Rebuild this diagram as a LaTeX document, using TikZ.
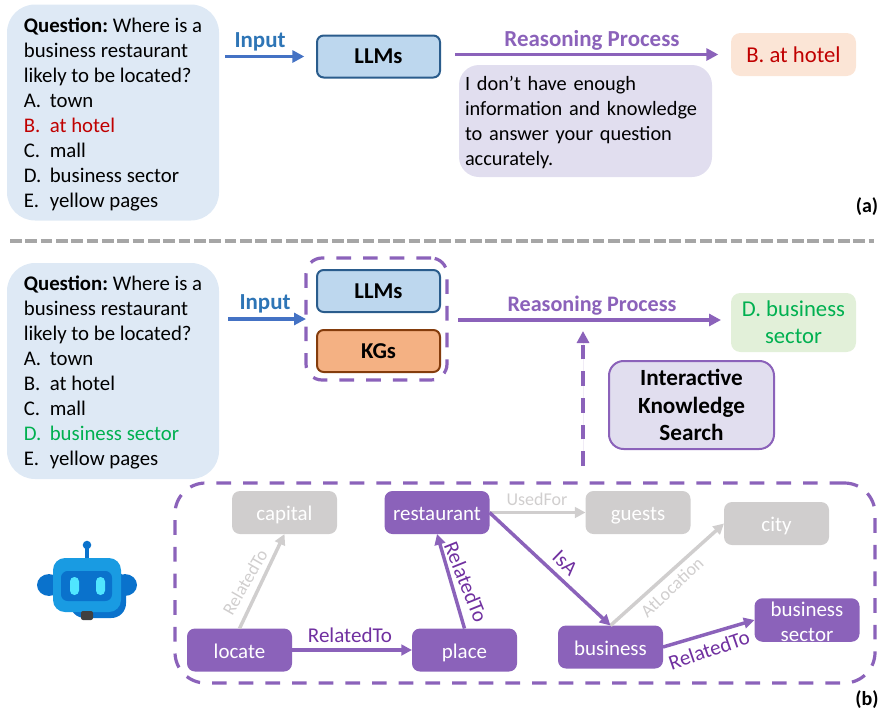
\documentclass[tikz,border=0pt]{standalone}
\usepackage{fontspec}
\setmainfont{Carlito}
\usetikzlibrary{arrows.meta}
\definecolor{qblue}{HTML}{DEE9F5}
\definecolor{llmfill}{HTML}{BDD7EE}
\definecolor{llmline}{HTML}{2A5C8C}
\definecolor{kgfill}{HTML}{F4B183}
\definecolor{kgline}{HTML}{843C0C}
\definecolor{lilac}{HTML}{E1DEEF}
\definecolor{violet}{HTML}{8B62BA}
\definecolor{violettext}{HTML}{7030A0}
\definecolor{ashen}{HTML}{D0CECE}
\definecolor{peach}{HTML}{FBE5D6}
\definecolor{mint}{HTML}{E2F0D9}
\definecolor{wrong}{HTML}{C00000}
\definecolor{right}{HTML}{00B050}
\definecolor{inblue}{HTML}{4472C4}
\definecolor{intext}{HTML}{2E75B6}
\definecolor{robothead}{HTML}{199BE2}
\definecolor{robotdark}{HTML}{0A72CC}
\definecolor{roboteye}{HTML}{50E6FF}
\newcommand\opt[2]{\makebox[19.5pt][l]{#1}#2}
\newcommand\qhead{\rule{0pt}{13.5pt}\textbf{Question:} Where is a}
\tikzset{
	size/.style 2 args={minimum width=#1*0.75pt, minimum height=#2*0.75pt, inner sep=0pt, outer sep=0pt},
	txt/.style={font=\fontsize{15.6}{18.75}\selectfont},
	bigtxt/.style={font=\fontsize{17}{20.4}\selectfont},
	question/.style={txt, fill=qblue, rounded corners=21pt, size={212}{216}, align=left},
	llmbox/.style={font=\fontsize{17}{20}\selectfont\bfseries, fill=llmfill, draw=llmline, line width=1.5pt, rounded corners=5pt, size={123}{42}},
	kgbox/.style={llmbox, fill=kgfill, draw=kgline},
	answer/.style={bigtxt, rounded corners=7pt, size={125}{43}, align=center},
	graybox/.style={font=\fontsize{15.7}{18.5}\selectfont, text=white, fill=ashen, rounded corners=6pt, size={105}{43}},
	violetbox/.style={graybox, fill=violet},
	oneline/.style={text height=15pt, text depth=2.5pt},
	dashbox/.style={draw=violet, line width=2.4pt, dash pattern=on 11pt off 9pt},
	flow/.style={line width=2.5pt, -{Triangle[length=9pt,width=9pt]}},
	edgeviolet/.style={draw=violet, line width=2.6pt, -{Triangle[length=8pt,width=8pt]}},
	edgegray/.style={draw=ashen, line width=2.6pt, -{Triangle[length=8pt,width=8pt]}},
	lblviolet/.style={font=\fontsize{15.8}{18}\selectfont, text=violettext, inner sep=0pt},
	lblgray/.style={font=\fontsize{13.5}{16}\selectfont, text=ashen, inner sep=0pt},
	heading/.style={font=\fontsize{17.2}{20}\selectfont\bfseries, inner sep=0pt},
	tag/.style={font=\fontsize{15}{18}\selectfont\bfseries, inner sep=0pt},
}
\begin{document}
\frenchspacing
\begin{tikzpicture}[x=0.75pt,y=-0.75pt]
	%%%%% START %%%%%
	\path[use as bounding box] (0,0) rectangle (881,711);

	% part (a)
	\node[question] (qa) at (113,112.5) {\qhead\\business restaurant\\likely to be located?\\\opt{A.}{town}\\\textcolor{wrong}{\opt{B.}{at hotel}}\\\opt{C.}{mall}\\\opt{D.}{business sector}\\\opt{E.}{yellow pages}};
	\node[llmbox] (llma) at (378.5,56.5) {LLMs};
	\node[answer, fill=peach, text=wrong] (ansa) at (793.5,54.5) {B. at hotel};
	\node[txt, font=\fontsize{15.25}{18.75}\selectfont, fill=lilac, rounded corners=15pt, size={253}{112}, align=left, text width=180.75pt] (replya) at (585.5,121) {\rule{0pt}{13.5pt}I don’t have enough\\information and knowledge\\to answer your question\\accurately.};
	\coordinate (ina) at (225,56.5);
	\coordinate (reasona) at (455,54.5);
	\draw[flow, draw=inblue, fill=inblue, shorten >=9.5pt] (ina) -- (llma.west);
	\draw[flow, draw=violet, fill=violet, shorten >=9.5pt] (reasona) -- (ansa.west);
	\node[heading, text=intext] (inputa) at (260,42) {Input};
	\node[heading, text=violet] (processa) at (592,40) {Reasoning Process};
	\node[tag] (taga) at (867,207) {(a)};

	% separator
	\coordinate (sepl) at (10,241);
	\coordinate (sepr) at (874,241);
	\draw[line width=2.7pt, color=black!35, dash pattern=on 8.8pt off 2.7pt] (sepl) -- (sepr);

	% part (b)
	\node[question] (qb) at (113,371) {\qhead\\business restaurant\\likely to be located?\\\opt{A.}{town}\\\opt{B.}{at hotel}\\\opt{C.}{mall}\\\textcolor{right}{\opt{D.}{business sector}}\\\opt{E.}{yellow pages}};
	\node[dashbox, rounded corners=12pt, size={141}{122}] (group) at (376.5,319) {};
	\node[llmbox] (llmb) at (378.5,291) {LLMs};
	\node[kgbox] (kgb) at (378.5,351) {KGs};
	\node[answer, fill=mint, text=right, size={125}{59}] (ansb) at (793.5,322.5) {D. business\\sector};
	\node[font=\fontsize{17.4}{20.6}\selectfont\bfseries, fill=lilac, draw=violet, line width=1.5pt, rounded corners=11pt, size={165}{88}, align=center] (search) at (691.5,405) {Interactive\\Knowledge\\Search};
	\coordinate (inb) at (228,319);
	\coordinate (reasonb) at (458,320);
	\coordinate (reasonend) at (721,320);
	\coordinate (upstart) at (583,466);
	\coordinate (upend) at (583,331);
	\draw[flow, draw=inblue, fill=inblue] (inb) -- (group.west);
	\draw[flow, draw=violet, fill=violet] (reasonb) -- (reasonend);
	\draw[flow, draw=violet, fill=violet, dash pattern=on 11pt off 9pt] (upstart) -- (upend);
	\node[heading, text=intext] (inputb) at (265,304) {Input};
	\node[heading, text=violet, font=\fontsize{16.6}{20}\selectfont\bfseries] (processb) at (592,306) {Reasoning Process};

	% knowledge graph
	\node[dashbox, rounded corners=23pt, size={700}{200}] (kg) at (525,583) {};
	\node[graybox, oneline] (capital) at (284.5,512.5) {capital};
	\node[violetbox, oneline] (restaurant) at (437,512.5) {restaurant};
	\node[graybox, oneline] (guests) at (638,512.5) {guests};
	\node[graybox, oneline] (city) at (776.5,523.5) {city};
	\node[violetbox, oneline] (locate) at (239.5,650) {locate};
	\node[violetbox, oneline] (place) at (464.5,650) {place};
	\node[violetbox, oneline] (business) at (610.5,647) {business};
	\node[violetbox, align=center] (sector) at (807,620) {\rule{0pt}{14pt}business\\sector};

	\draw[edgegray] (locate.north) -- (capital.south);
	\draw[edgegray] (restaurant.east) -- (guests.west);
	\draw[edgegray] (business.north) -- (city.west);
	\draw[edgeviolet] (locate.east) -- (place.west);
	\draw[edgeviolet] (place.north) -- (restaurant.south);
	\draw[edgeviolet] (restaurant.east) -- (business.north);
	\draw[edgeviolet] (business.east) -- (sector.west);

	\node[lblgray, rotate=60] (lblcapital) at (245,582) {RelatedTo};
	\node[lblgray] (lblguests) at (537,499) {UsedFor};
	\node[lblgray, rotate=43] (lblcity) at (672,587) {AtLocation};
	\node[lblviolet] (lblplace) at (350,635) {RelatedTo};
	\node[lblviolet, rotate=-68] (lblrest) at (466,582) {RelatedTo};
	\node[lblviolet, rotate=-44] (lblisa) at (565,563) {IsA};
	\node[lblviolet, rotate=19] (lblsector) at (709,650) {RelatedTo};
	\node[tag] (tagb) at (867,700) {(b)};

	% robot
	\fill[color=robotdark] (49,585) ellipse (9pt and 8.2pt);
	\fill[color=robotdark] (125,585) ellipse (9pt and 8.2pt);
	\draw[line width=2.4pt, color=robotdark] (87,545) -- (87,560);
	\fill[color=robotdark] (87,545) circle (3.2pt);
	\fill[color=robotdark, rounded corners=11pt] (70,570) rectangle (126,618);
	\fill[color=robothead, rounded corners=9pt] (53,558) rectangle (121,612);
	\fill[color=robotdark, rounded corners=5pt] (61,571) rectangle (112,601);
	\fill[color=roboteye, rounded corners=3.3pt] (70,577) rectangle (79,595);
	\fill[color=roboteye, rounded corners=3.3pt] (96,577) rectangle (105,595);
	\fill[color=black!75, rounded corners=1.5pt] (81,611) rectangle (93,620);
	%%%%% END %%%%%
\end{tikzpicture}
\end{document}
